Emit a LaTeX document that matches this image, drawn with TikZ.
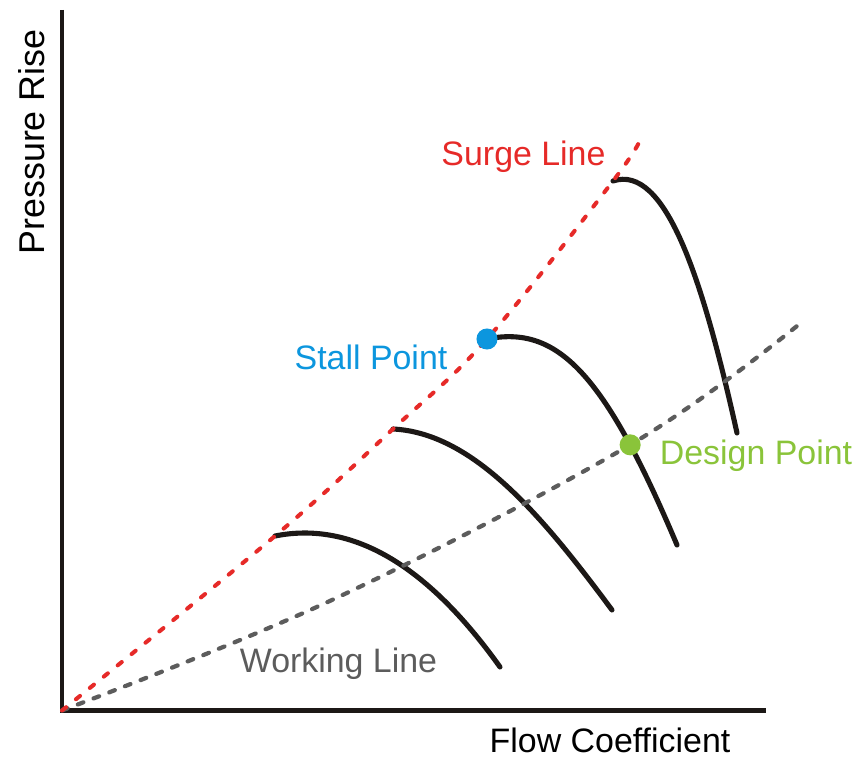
\documentclass[tikz,border=0pt]{standalone}
\usepackage{fontspec}
\setmainfont{Liberation Sans}
\usetikzlibrary{positioning}
\usetikzlibrary{calc}

\definecolor{surgered}{RGB}{230,42,40}
\definecolor{stallblue}{RGB}{12,150,222}
\definecolor{designgreen}{RGB}{138,196,58}
\definecolor{workgray}{RGB}{92,92,92}
\definecolor{curveblack}{RGB}{28,24,22}

\begin{document}
\begin{tikzpicture}[x=0.02cm,y=-0.02cm]
		\tikzset{axis/.style = {draw=curveblack, line width=2.8pt}}
		\tikzset{curve/.style = {draw=curveblack, line width=2.9pt, line cap=round}}
		\tikzset{surgeline/.style = {draw=surgered, line width=2.3pt, line cap=round, dash pattern=on 3pt off 7.2pt}}
		\tikzset{workline/.style = {draw=workgray, line width=2.4pt, line cap=round, dash pattern=on 3.4pt off 6.2pt}}
		\tikzset{dot/.style = {shape=circle, inner sep=0pt, minimum size=12pt}}
		\tikzset{lbl/.style = {inner sep=0pt, anchor=base, font=\fontsize{19.3}{23}\selectfont}}
		\useasboundingbox (0,0) rectangle (860,759);
		% axes
		\coordinate (ytop) at (62,10);
		\coordinate (o) at (62,710.5);
		\coordinate (xend) at (766,710.5);
		\draw[axis] (ytop) -- (o) -- (xend);
		
		% points on the surge line where the characteristics start
		\coordinate (s1) at (275,536);
		\coordinate (s2) at (393,429);
		\coordinate (s3) at (487,339);
		\coordinate (s4) at (613,181);
		\coordinate (send) at (641,138);
		
		% ends of the characteristics
		\coordinate (e1) at (500,667);
		\coordinate (e2) at (612,610);
		\coordinate (e3) at (677,545);
		\coordinate (e4) at (737,433);
		
		% characteristics
		\draw[curve] (s1) .. controls (351.7,520.7) and (426.7,564.3) .. (e1);
		\draw[curve] (s2) .. controls (473,433) and (542,515.5) .. (e2);
		\draw[curve] (s3) .. controls (557,325) and (604,372) .. coordinate[pos=0.77] (dp) (e3);
		\draw[curve] (s4) .. controls (665,164) and (702,275.5) .. (e4);
		
		% working line and surge line
		\coordinate (w1) at (332,600);
		\coordinate (wend) at (797,326);
		\draw[workline] plot[smooth, tension=0.6] coordinates {(o) (w1) (dp) (wend)};
		\draw[surgeline] plot[smooth, tension=0.6] coordinates {(o) (s1) (s2) (s3) (s4) (send)};
		
		% stall and design points
		\node[dot, fill=stallblue] (stall) at (s3) {};
		\node[dot, fill=designgreen] (design) at (dp) {};
		
		% labels
		\node[lbl, text=surgered] (surgetxt) at (523.5,166) {Surge Line};
		\node[lbl, text=stallblue] (stalltxt) at (371,370) {Stall Point};
		\node[lbl, text=designgreen] (designtxt) at (756,465) {Design Point};
		\node[lbl, text=workgray] (worktxt) at (338.5,673) {Working Line};
		\node[lbl] (xlbl) at (610,753) {Flow Coefficient};
		\node[lbl, rotate=90, font=\fontsize{20.4}{24}\selectfont] (ylbl) at (44.5,142) {Pressure Rise};
		
		\end{tikzpicture}
\end{document}
